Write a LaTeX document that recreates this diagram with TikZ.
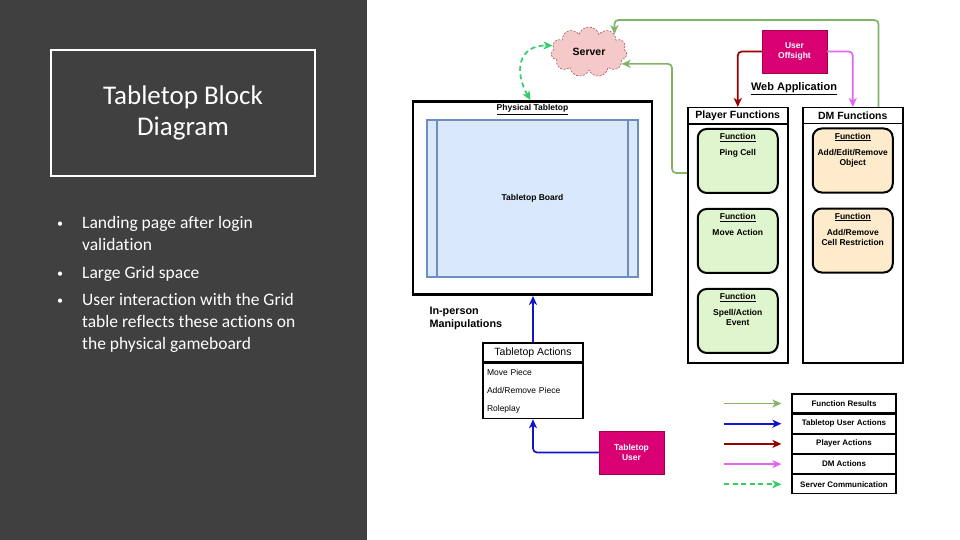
\documentclass[tikz,border=0pt]{standalone}
\usepackage{fontspec}
\setmainfont{Liberation Sans}
\newfontfamily\slidefont[Ligatures=NoCommon]{Carlito}
\usepackage{xcolor}
\usetikzlibrary{positioning,arrows.meta,shapes.symbols}
\definecolor{slidegray}{HTML}{404040}
\definecolor{resultgreen}{HTML}{82B366}
\definecolor{useractblue}{HTML}{1414CC}
\definecolor{playerred}{HTML}{990000}
\definecolor{dmpink}{HTML}{E466F0}
\definecolor{serverlink}{HTML}{33CC66}
\definecolor{userfill}{HTML}{D80073}
\definecolor{userline}{HTML}{A50040}
\definecolor{cloudfill}{HTML}{F6C9C9}
\definecolor{cloudline}{HTML}{9A5A5A}
\definecolor{boardfill}{HTML}{DAE8FC}
\definecolor{boardline}{HTML}{6C8EBF}
\definecolor{playerfill}{HTML}{DFF5CE}
\definecolor{dmfill}{HTML}{FDEBCC}
\tikzset{
    tbttitle/.style={draw=white, line width=2.5pt, minimum width=264pt, minimum height=126pt, text=white, align=center, font=\slidefont\fontsize{27}{31}\selectfont},
    tbtbullet/.style={anchor=base west, text=white, align=left, inner sep=0pt, font=\slidefont\fontsize{17.5}{22}\selectfont},
    tbtdot/.style={anchor=base, text=white, inner sep=0pt, font=\slidefont\fontsize{12}{14}\selectfont},
    tbtcloud/.style={cloud, cloud puffs=11, aspect=1.6, draw=cloudline, dash pattern=on 2pt off 1.5pt, line width=0.6pt, fill=cloudfill, minimum width=76pt, minimum height=50pt, inner sep=0pt, font=\fontsize{10.5}{12}\selectfont\bfseries},
    tbttable/.style={draw, line width=2.8pt, minimum width=239pt, minimum height=193pt},
    tbtboard/.style={draw=boardline, line width=1.4pt, fill=boardfill, minimum width=211pt, minimum height=157pt, font=\fontsize{8.5}{10}\selectfont\bfseries, path picture={
        \draw[boardline, line width=1.4pt] ([xshift=10pt]path picture bounding box.north west) -- ([xshift=10pt]path picture bounding box.south west);
        \draw[boardline, line width=1.4pt] ([xshift=-10pt]path picture bounding box.north east) -- ([xshift=-10pt]path picture bounding box.south east);
    }},
    tbtcaption/.style={anchor=north, font=\fontsize{8.5}{10}\selectfont\bfseries},
    tbtuser/.style={draw=userline, fill=userfill, text=white, align=center, minimum width=65pt, minimum height=43pt, font=\fontsize{8.5}{10}\selectfont\bfseries},
    tbtframe/.style={draw, line width=1.5pt, minimum width=100pt, minimum height=255pt, anchor=north west},
    tbthead/.style={draw, line width=1.5pt, minimum width=100pt, minimum height=16pt, anchor=north west, font=\fontsize{10.5}{12}\selectfont\bfseries},
    tbtfunctext/.style={anchor=north, yshift=-2pt, align=center, font=\fontsize{8.5}{10}\selectfont\bfseries},
    tbtfunc/.style={draw, line width=2pt, rounded corners=9pt, minimum width=80pt, minimum height=64pt, label={[tbtfunctext]north:{\underline{Function}\\[6pt]#1}}},
    tbtplayerfn/.style={tbtfunc={#1}, fill=playerfill},
    tbtdmfn/.style={tbtfunc={#1}, fill=dmfill},
    tbtactionhead/.style={draw, line width=1.5pt, minimum width=100pt, minimum height=19pt, font=\fontsize{10.5}{12}\selectfont},
    tbtactionlist/.style={draw, line width=1.5pt, minimum width=100pt, minimum height=55pt, inner xsep=4pt, text width=92pt, align=left, font=\fontsize{8.5}{18}\selectfont},
    tbtnote/.style={anchor=north west, align=left, font=\fontsize{10.8}{13}\selectfont\bfseries},
    tbtlegend/.style={draw, line width=1.2pt, minimum width=104pt, minimum height=19pt, font=\fontsize{8}{10}\selectfont\bfseries},
    tbtarrow/.style={line width=1.7pt, rounded corners=4pt, -{Stealth[length=9pt, width=8pt, inset=2.5pt]}},
    tbtresult/.style={tbtarrow, draw=resultgreen},
    tbtuseract/.style={tbtarrow, draw=useractblue},
    tbtplayer/.style={tbtarrow, draw=playerred},
    tbtdm/.style={tbtarrow, draw=dmpink},
    tbtdashed/.style={line width=1.7pt, draw=serverlink, dash pattern=on 5pt off 3.5pt},
    tbtserverlink/.style={tbtdashed, {Stealth[length=9pt, width=8pt, inset=2.5pt]}-{Stealth[length=9pt, width=8pt, inset=2.5pt]}}
}

\begin{document}
\begin{tikzpicture}[x=1pt, y=-1pt, node distance=14pt]
    \useasboundingbox (0,0) rectangle (960,540);
    \fill[slidegray] (0,0) rectangle (367,540);

    % slide text (base = last line)
    \node[tbttitle] (title) at (183,113) {Tabletop Block\\Diagram};
    \node[tbtdot] (dotone) at (60,227) {•};
    \node[tbtbullet] (bulletone) at (82,250) {Landing page after login\\validation};
    \node[tbtdot] (dottwo) at (60,277) {•};
    \node[tbtbullet] (bullettwo) at (82,278) {Large Grid space};
    \node[tbtdot] (dotthree) at (60,304) {•};
    \node[tbtbullet] (bulletthree) at (82,349) {User interaction with the Grid\\table reflects these actions on\\the physical gameboard};

    % tabletop side
    \node[tbtcloud] (server) at (589,52) {Server};
    \node[tbttable] (tabletop) at (532.5,198) {};
    \node[tbtboard] (board) at (532.5,198.5) {Tabletop Board};
    \node[tbtcaption, below=1pt of tabletop.north] (tabletoplabel) {\underline{Physical Tabletop}};
    \node[tbtnote] (inperson) at (426,304) {In-person\\Manipulations};
    \node[tbtactionhead] (actionshead) at (533,352.5) {Tabletop Actions};
    \node[tbtactionlist, below=0pt of actionshead] (actionsbody) {Move Piece\\Add/Remove Piece\\Roleplay};
    \node[tbtuser] (tbuser) at (631.5,452.5) {Tabletop\\User};

    % web application
    \node[tbtuser] (offsight) at (794.5,51.5) {User\\Offsight};
    \node[font=\fontsize{11}{13}\selectfont\bfseries] (webapp) at (794,89) {\underline{Web Application}};
    \node[tbtframe] (playerframe) at (687,107) {};
    \node[tbthead] (playerhead) at (687,107) {Player Functions};
    \node[tbtplayerfn={Ping Cell}, below=3pt of playerhead] (ping) {};
    \node[tbtplayerfn={Move Action}, below=of ping] (move) {};
    \node[tbtplayerfn={Spell/Action\\Event}, below=of move] (spell) {};
    \node[tbtframe] (dmframe) at (802,107) {};
    \node[tbthead] (dmhead) at (802,107) {DM Functions};
    \node[tbtdmfn={Add/Edit/Remove\\Object}, below=3pt of dmhead] (editobj) {};
    \node[tbtdmfn={Add/Remove\\Cell Restriction}, below=of editobj] (restrict) {};

    % legend
    \node[tbtlegend] (legresult) at (844,403.5) {Function Results};
    \node[tbtlegend, below=0pt of legresult] (leguser) {Tabletop User Actions};
    \node[tbtlegend, below=0pt of leguser] (legplayer) {Player Actions};
    \node[tbtlegend, below=0pt of legplayer] (legdm) {DM Actions};
    \node[tbtlegend, below=0pt of legdm] (legserver) {Server Communication};

    \draw[tbtresult] ([xshift=-25pt]dmhead.north east) -- ++(0,-87) -| (server.35);
    \draw[tbtresult] ([yshift=-12pt]ping.west -| playerframe.west) -- ++(-15,0) |- (server.-20);
    \draw[tbtplayer] (offsight.west) -| (playerhead.north);
    \draw[tbtdm] (offsight.east) -| (dmhead.north);
    \draw[tbtuseract] (actionshead.north) -- (actionshead.north |- tabletop.south);
    \draw[tbtuseract] (tbuser.west) -| (actionsbody.south);
    \draw[tbtserverlink] ([xshift=-2pt]tabletop.north) .. controls (514,72) and (518,45) .. (server.170);

    \draw[tbtresult] ([xshift=-67pt]legresult.west) -- ([xshift=-10pt]legresult.west);
    \draw[tbtuseract] ([xshift=-67pt]leguser.west) -- ([xshift=-10pt]leguser.west);
    \draw[tbtplayer] ([xshift=-67pt]legplayer.west) -- ([xshift=-10pt]legplayer.west);
    \draw[tbtdm] ([xshift=-67pt]legdm.west) -- ([xshift=-10pt]legdm.west);
    \draw[tbtdashed, -{Stealth[length=9pt, width=8pt, inset=2.5pt]}] ([xshift=-67pt]legserver.west) -- ([xshift=-10pt]legserver.west);
\end{tikzpicture}
\end{document}
